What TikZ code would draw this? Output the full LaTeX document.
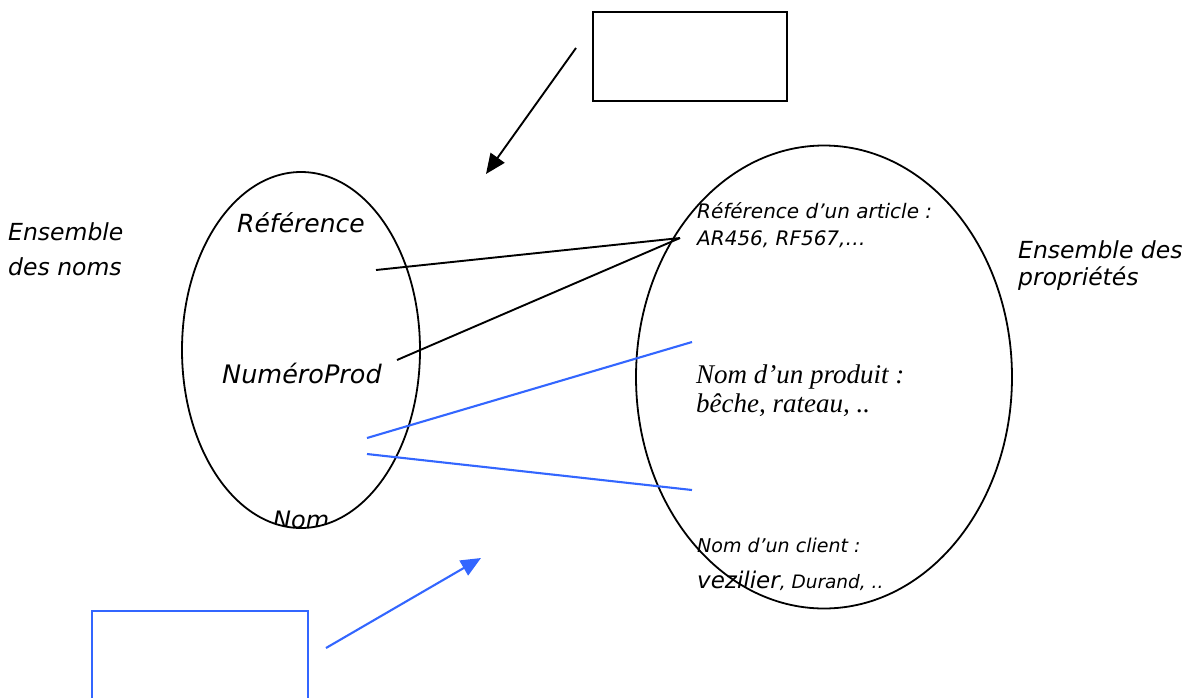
\documentclass[tikz,border=0pt]{standalone}
\usepackage{fontspec}
\setmainfont{DejaVu Sans}
\newfontfamily\timesfont{Liberation Serif}
\usetikzlibrary{shapes.geometric,arrows.meta}
\definecolor{lineblue}{HTML}{3366FF}
\begin{document}
\begin{tikzpicture}[x=1pt,y=-1pt,
  setshape/.style={ellipse,draw,line width=1.8pt,inner sep=0pt,outer sep=0pt},
  emptybox/.style={draw,inner sep=0pt,outer sep=0pt,anchor=north west},
  link/.style={line width=1.9pt},
  bluelink/.style={line width=2.1pt,draw=lineblue},
  lbl/.style={inner sep=0pt,anchor=base west,font=\itshape},
  arrowtip/.style={-{Triangle[length=20pt,width=17pt]}}]
\useasboundingbox (0,0) rectangle (1189,697);

% the two sets
\node[setshape,minimum width=238pt,minimum height=356pt] (noms) at (301,350) {};
\node[setshape,minimum width=376pt,minimum height=463pt] (props) at (824,377) {};

% empty boxes
\node[emptybox,line width=1.5pt,minimum width=194pt,minimum height=89pt] (boxtop) at (593,12) {};
\node[emptybox,line width=2.2pt,draw=lineblue,minimum width=216pt,minimum height=100pt] (boxbot) at (92,611) {};

% set captions
\node[lbl,font=\itshape\fontsize{23.5}{28}\selectfont] (capnoms) at (8,240) {Ensemble};
\node[lbl,font=\itshape\fontsize{23.5}{28}\selectfont] (capnoms2) at (8,275) {des noms};
\node[lbl,font=\itshape\fontsize{23.5}{28}\selectfont] (capprops) at (1018,258) {Ensemble des};
\node[lbl,font=\itshape\fontsize{23.5}{28}\selectfont] (capprops2) at (1018,285) {propriétés};

% names
\node[lbl,font=\itshape\fontsize{25}{28}\selectfont] (ref) at (237,232) {Référence};
\node[lbl,font=\itshape\fontsize{25.5}{28}\selectfont] (num) at (222,383) {NuméroProd};
\begin{scope}
  \clip (301,350) ellipse [x radius=119, y radius=178];
  \node[lbl,font=\itshape\fontsize{24}{28}\selectfont] (nom) at (273,528) {Nom};
\end{scope}

% properties
\node[lbl,font=\itshape\fontsize{20}{22}\selectfont] (pref) at (697,218) {Référence d’un article :};
\node[lbl,font=\itshape\fontsize{20}{22}\selectfont] (pref2) at (697,245) {AR456, RF567,…};
\node[lbl,font=\timesfont\itshape\fontsize{27}{30}\selectfont] (pnom) at (696,383) {Nom d’un produit :};
\node[lbl,font=\timesfont\itshape\fontsize{27}{30}\selectfont] (pnom2) at (696,412) {bêche, rateau, ..};
\node[lbl,font=\itshape\fontsize{19}{22}\selectfont] (pcli) at (697,552) {Nom d’un client :};
\node[lbl,font=\itshape\fontsize{18.5}{22}\selectfont] (pcli2) at (697,588) {{\fontsize{23}{28}\selectfont vezilier}, Durand, ..};

% end points of the connectors
\coordinate (a1) at (376,270);
\coordinate (a2) at (397,360);
\coordinate (ra) at (680,238);
\coordinate (b1) at (367,438);
\coordinate (b2) at (367,454);
\coordinate (rb1) at (692,342);
\coordinate (rb2) at (692,490);
\coordinate (tarr) at (576,48);
\coordinate (tend) at (486,174);
\coordinate (barr) at (326,648);
\coordinate (bend) at (481,558);

% connectors
\draw[link] (a1) -- (ra);
\draw[link] (a2) -- (ra);
\draw[bluelink] (b1) -- (rb1);
\draw[bluelink] (b2) -- (rb2);
\draw[link,arrowtip] (tarr) -- (tend);
\draw[bluelink,arrowtip,color=lineblue] (barr) -- (bend);
\end{tikzpicture}
\end{document}
